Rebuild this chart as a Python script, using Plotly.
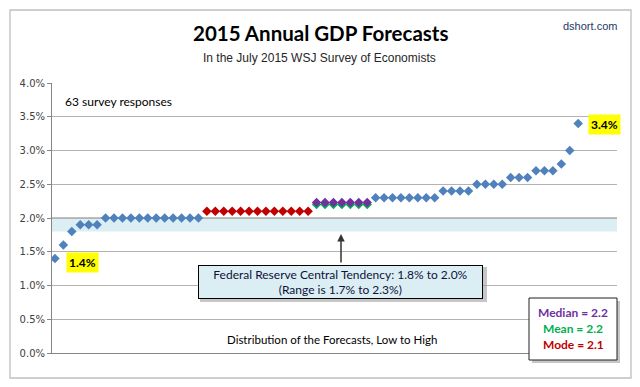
import plotly.graph_objects as go
import statistics

# ---------------- data ----------------
forecast_values = [1.4, 1.6, 1.8, 1.9, 1.9, 1.9,
                   2.0, 2.0, 2.0, 2.0, 2.0, 2.0, 2.0, 2.0, 2.0, 2.0, 2.0, 2.0,
                   2.1, 2.1, 2.1, 2.1, 2.1, 2.1, 2.1, 2.1, 2.1, 2.1, 2.1, 2.1, 2.1,
                   2.2, 2.2, 2.2, 2.2, 2.2, 2.2, 2.2,
                   2.3, 2.3, 2.3, 2.3, 2.3, 2.3, 2.3, 2.3,
                   2.4, 2.4, 2.4, 2.4,
                   2.5, 2.5, 2.5, 2.5,
                   2.6, 2.6, 2.6,
                   2.7, 2.7, 2.7,
                   2.8, 3.0, 3.4]
ranks = list(range(1, len(forecast_values) + 1))
fed_central_tendency = [1.8, 2.0]
fed_range = [1.7, 2.3]
y_tick_values = [0.0, 0.5, 1.0, 1.5, 2.0, 2.5, 3.0, 3.5, 4.0]
y_tick_labels = ["0.0%", "0.5%", "1.0%", "1.5%", "2.0%", "2.5%", "3.0%", "3.5%", "4.0%"]

median_v = statistics.median(forecast_values)
mean_v = statistics.mean(forecast_values)
mode_v = statistics.mode(forecast_values)

BLUE, RED, GREEN, PURPLE = "#4F81BD", "#C00000", "#00B050", "#7030A0"

# ---------------- layout helpers (pixel -> paper) ----------------
W, H = 640, 387
L, R, T, B = 52, 617, 83, 353
PW, PH = R - L, B - T


def px(x):
    return (x - L) / PW


def py(y):
    return (B - y) / PH


def split(pred):
    xs = [r for r, v in zip(ranks, forecast_values) if pred(v)]
    ys = [v for v in forecast_values if pred(v)]
    return xs, ys


fig = go.Figure()
bx, by = split(lambda v: abs(v - mode_v) > 1e-9 and abs(v - median_v) > 1e-9)
rx, ry = split(lambda v: abs(v - mode_v) < 1e-9)
mx, my = split(lambda v: abs(v - median_v) < 1e-9)

msize = 7.3
fig.add_trace(go.Scatter(x=bx, y=by, mode="markers",
                         marker=dict(symbol="diamond", size=msize, color=BLUE), hoverinfo="x+y"))
fig.add_trace(go.Scatter(x=rx, y=ry, mode="markers",
                         marker=dict(symbol="diamond", size=msize, color=RED)))
fig.add_trace(go.Scatter(x=mx, y=my, mode="markers",
                         marker=dict(symbol="diamond", size=msize, color=GREEN)))
fig.add_trace(go.Scatter(x=mx, y=my, mode="markers", yaxis="y2",
                         marker=dict(symbol="diamond", size=msize, color=PURPLE)))

shapes = []
# Fed central tendency band
shapes.append(dict(type="rect", xref="paper", yref="y", x0=0, x1=1,
                   y0=fed_central_tendency[0], y1=fed_central_tendency[1],
                   fillcolor="#DBEEF4", line=dict(width=0), layer="below"))
shapes.append(dict(type="line", xref="paper", yref="y", x0=0, x1=1,
                   y0=fed_central_tendency[1], y1=fed_central_tendency[1],
                   line=dict(color="#7F7F7F", width=1), layer="below"))
# outer chart border
shapes.append(dict(type="rect", xref="paper", yref="paper", x0=px(10), x1=px(631),
                   y0=py(378), y1=py(10), line=dict(color="#BFBFBF", width=1.3)))
# fed box shadow
shapes.append(dict(type="rect", xref="paper", yref="paper", x0=px(200), x1=px(487),
                   y0=py(302), y1=py(267), fillcolor="#A0A0A0", line=dict(width=0), opacity=0.6))
# legend box shadow + box
shapes.append(dict(type="rect", xref="paper", yref="paper", x0=px(532), x1=px(620),
                   y0=py(363), y1=py(301), fillcolor="#A0A0A0", line=dict(width=0), opacity=0.6))
shapes.append(dict(type="rect", xref="paper", yref="paper", x0=px(529), x1=px(617),
                   y0=py(360), y1=py(298), fillcolor="white", line=dict(color="#202020", width=1)))

anns = []


def text(t, x, y, size, color, family, xanchor="center", **kw):
    anns.append(dict(text=t, xref="paper", yref="paper", x=px(x), y=py(y),
                     xanchor=xanchor, yanchor="middle", showarrow=False,
                     font=dict(size=size, color=color, family=family), **kw))


text("<b>2015 Annual GDP Forecasts</b>", 321, 33, 20.5, "#000000", "Lato")
text("In the July 2015 WSJ Survey of Economists", 319, 58, 12, "#262626", "Liberation Sans")
text("dshort.com", 619, 26, 11, "#1F3864", "Liberation Sans", xanchor="right")
text(f"{len(forecast_values)} survey responses", 63, 101, 12, "#000000", "Lato", xanchor="left")
text("Distribution of the Forecasts, Low to High", 332, 339, 11.5, "#000000", "Lato")
text(f"<b>Median = {median_v:.1f}</b>", 573, 312, 12, PURPLE, "Lato")
text(f"<b>Mean = {mean_v:.1f}</b>", 573, 328, 12, GREEN, "Lato")
text(f"<b>Mode = {mode_v:.1f}</b>", 573, 344, 12, RED, "Lato")

# Fed box
anns.append(dict(text=(f"Federal Reserve Central Tendency: {fed_central_tendency[0]:.1f}% to {fed_central_tendency[1]:.1f}%"
                       f"<br>(Range is {fed_range[0]:.1f}% to {fed_range[1]:.1f}%)"),
                 xref="paper", yref="paper", x=px(340), y=py(281.5), xanchor="center", yanchor="middle",
                 showarrow=False, align="center", width=281, height=30,
                 bgcolor="#DBEEF4", bordercolor="#000000", borderwidth=1, borderpad=1,
                 font=dict(size=12, color="#10103A", family="Lato")))
# arrow
anns.append(dict(text="", xref="paper", yref="paper", x=px(341), y=py(234), ax=0, ay=30,
                 showarrow=True, arrowhead=2, arrowsize=1, arrowwidth=1.5, arrowcolor="#333333"))

# data labels for extreme values
lo_i = forecast_values.index(min(forecast_values))
hi_i = forecast_values.index(max(forecast_values))
anns.append(dict(text=f"<b>{forecast_values[lo_i]:.1f}%</b>", x=ranks[lo_i], y=forecast_values[lo_i],
                 xref="x", yref="y", xanchor="left", yanchor="middle", xshift=11, yshift=-4,
                 showarrow=False, bgcolor="#FFFF00", borderpad=2,
                 font=dict(size=12, color="#000000", family="Lato")))
anns.append(dict(text=f"<b>{forecast_values[hi_i]:.1f}%</b>", x=ranks[hi_i], y=forecast_values[hi_i],
                 xref="x", yref="y", xanchor="left", yanchor="middle", xshift=10, yshift=-1,
                 showarrow=False, bgcolor="#FFFF00", borderpad=2,
                 font=dict(size=12, color="#000000", family="Lato")))

fig.update_layout(
    width=W, height=H,
    margin=dict(l=L, r=W - R, t=T, b=H - B, pad=0),
    paper_bgcolor="white", plot_bgcolor="white",
    showlegend=False,
    shapes=shapes, annotations=anns,
    xaxis=dict(range=[0.65, 67.6], showgrid=False, zeroline=False, showticklabels=False,
               showline=True, linecolor="#868686", linewidth=1, ticks=""),
    yaxis=dict(range=[0, 4.0], tickvals=y_tick_values, ticktext=y_tick_labels,
               showgrid=True, gridcolor="#B3B3B3", gridwidth=1, zeroline=False,
               showline=True, linecolor="#868686", linewidth=1,
               ticks="outside", ticklen=4, tickcolor="#868686",
               tickfont=dict(family="DejaVu Sans", size=10, color="#404040")),
    yaxis2=dict(range=[-0.03, 3.97], overlaying="y", visible=False),
)

fig.write_html("out.html", config={"displayModeBar": False},
               post_script="document.body.style.margin='0';document.body.style.overflow='hidden';")
